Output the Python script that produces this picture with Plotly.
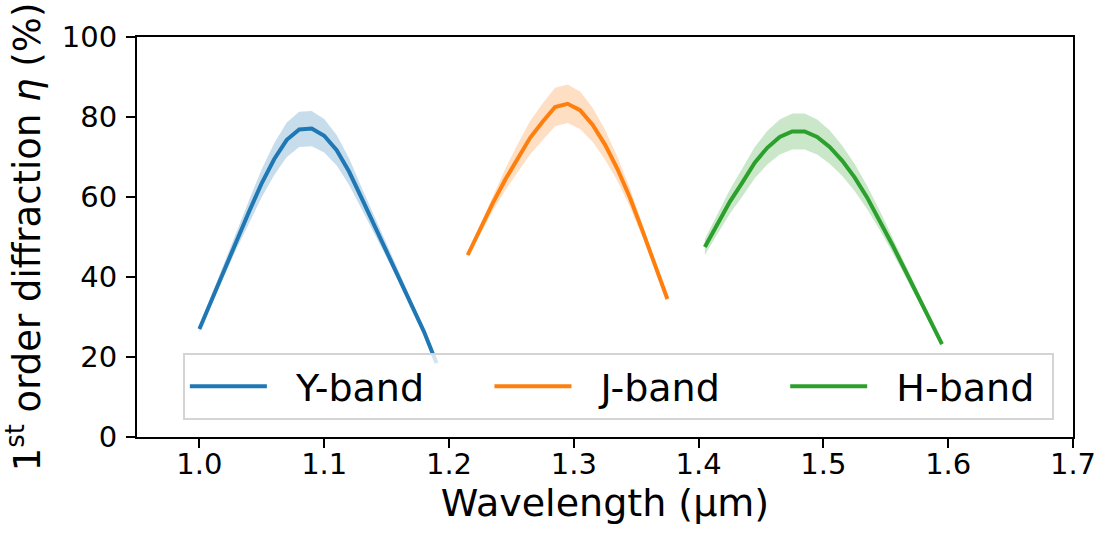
import plotly.graph_objects as go

# ---- data ----
y_wl = [1.00, 1.01, 1.02, 1.03, 1.04, 1.05, 1.06, 1.07, 1.08, 1.09,
        1.10, 1.11, 1.12, 1.13, 1.14, 1.15, 1.16, 1.17, 1.18, 1.19]
y_eff = [27.0, 34.5, 42.0, 49.5, 56.5, 63.5, 69.5, 74.3, 76.9, 77.1,
         75.3, 71.7, 66.3, 59.7, 53.0, 46.6, 40.0, 33.3, 26.3, 18.5]
y_err = [0.8, 1.2, 1.7, 2.3, 2.9, 3.5, 4.0, 4.3, 4.4, 4.4,
         4.2, 3.8, 3.3, 2.7, 2.2, 1.7, 1.3, 1.0, 0.7, 0.5]

j_wl = [1.215, 1.225, 1.235, 1.245, 1.255, 1.265, 1.275, 1.285, 1.295,
        1.305, 1.315, 1.325, 1.335, 1.345, 1.355, 1.365, 1.375]
j_eff = [45.5, 52.0, 58.4, 64.3, 69.7, 74.8, 78.8, 82.5, 83.3,
         81.7, 78.1, 73.1, 67.0, 59.8, 51.6, 43.3, 34.5]
j_err = [0.6, 1.2, 1.9, 2.7, 3.5, 4.2, 4.6, 4.8, 4.8,
         4.7, 4.3, 3.7, 3.0, 2.3, 1.6, 1.0, 0.6]

h_wl = [1.405, 1.415, 1.425, 1.435, 1.445, 1.455, 1.465, 1.475, 1.485, 1.495,
        1.505, 1.515, 1.525, 1.535, 1.545, 1.555, 1.565, 1.575, 1.585, 1.595]
h_eff = [47.5, 53.2, 58.8, 63.6, 68.6, 72.3, 75.0, 76.4, 76.4, 75.0,
         72.5, 69.1, 64.9, 59.9, 54.3, 48.2, 42.0, 35.7, 29.5, 23.2]
h_err = [2.0, 2.5, 3.0, 3.5, 3.9, 4.2, 4.4, 4.5, 4.5, 4.4,
         4.2, 3.8, 3.4, 2.9, 2.4, 1.9, 1.5, 1.1, 0.8, 0.6]

labels = ["Y-band", "J-band", "H-band"]
x_ticks = [1.0, 1.1, 1.2, 1.3, 1.4, 1.5, 1.6, 1.7]
y_ticks = [0, 20, 40, 60, 80, 100]

colors = ["#1f77b4", "#ff7f0e", "#2ca02c"]
fills = ["rgba(31,119,180,0.25)", "rgba(255,127,14,0.25)", "rgba(44,160,44,0.25)"]

FONT = "DejaVu Sans"
NBSP = "\u00a0"
# spacing: leading gap between legend line and text, trailing gap between entries
lead = [2, 2, 2]
trail = [5, 5, 1]

fig = go.Figure()

series = [(y_wl, y_eff, y_err), (j_wl, j_eff, j_err), (h_wl, h_eff, h_err)]
for (wl, eff, err), c, fc in zip(series, colors, fills):
    upper = [v + e for v, e in zip(eff, err)]
    lower = [v - e for v, e in zip(eff, err)]
    fig.add_trace(go.Scatter(
        x=list(wl) + list(wl[::-1]), y=upper + lower[::-1],
        fill="toself", fillcolor=fc, line=dict(width=0),
        mode="lines", showlegend=False, hoverinfo="skip"))
for (wl, eff, err), lab, c, a, b in zip(series, labels, colors, lead, trail):
    fig.add_trace(go.Scatter(
        x=wl, y=eff, mode="lines", name=NBSP * a + lab + NBSP * b,
        line=dict(color=c, width=4)))

axis_common = dict(
    showline=True, linecolor="black", linewidth=2, mirror=True,
    ticks="outside", ticklen=9, tickwidth=2, tickcolor="black",
    showgrid=False, zeroline=False, automargin=False,
    tickfont=dict(family=FONT, size=29, color="black"),
)

fig.update_layout(
    width=1102, height=535,
    margin=dict(l=137, r=29, t=37, b=98),
    paper_bgcolor="white", plot_bgcolor="white",
    font=dict(family=FONT, color="black"),
    xaxis=dict(range=[0.95, 1.7], tickvals=x_ticks,
               ticktext=[f"{v:.1f}" for v in x_ticks],
               title=dict(text="Wavelength (µm)", font=dict(family=FONT, size=38), standoff=8),
               ticklabelstandoff=-9,
               **axis_common),
    yaxis=dict(range=[0, 100], tickvals=y_ticks,
               title=dict(text="1<sup>st</sup> order diffraction <i>η</i> (%)",
                          font=dict(family=FONT, size=37), standoff=12),
               ticklabelstandoff=3,
               **axis_common),
    legend=dict(
        orientation="h", x=0.049, y=0.21, xanchor="left", yanchor="top",
        bgcolor="rgba(255,255,255,0.8)", bordercolor="#d4d4d4", borderwidth=2,
        font=dict(family=FONT, size=38, color="black"),
        itemwidth=77,
    ),
)

fig.write_html("out.html",
               config={"displayModeBar": False},
               post_script="document.body.style.margin='0';document.body.style.overflow='hidden';")
